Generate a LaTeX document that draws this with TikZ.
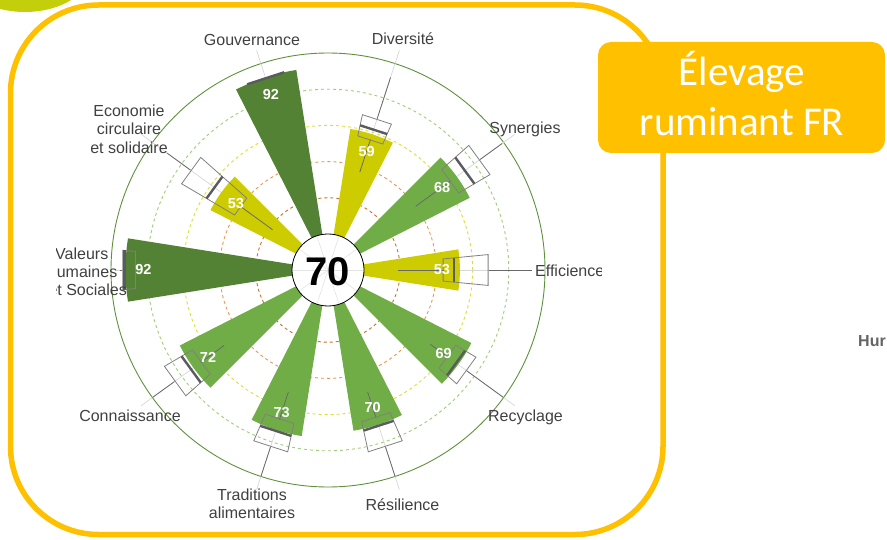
\documentclass[tikz,border=0pt]{standalone}
\usepackage{fontspec}
\setmainfont{Liberation Sans}
\newfontfamily\titlefont{Carlito}
\definecolor{gold}{RGB}{255,192,0}
\definecolor{darkg}{RGB}{84,130,53}
\definecolor{midg}{RGB}{112,173,71}
\definecolor{yelg}{RGB}{204,204,0}
\definecolor{limeblob}{RGB}{195,207,10}
\definecolor{txt}{RGB}{64,64,64}
\definecolor{spokec}{RGB}{215,215,215}
\definecolor{ctrspoke}{RGB}{228,228,228}
\definecolor{whisk}{RGB}{105,105,105}
\definecolor{boxc}{RGB}{128,128,128}
\definecolor{medc}{RGB}{90,90,95}
\definecolor{ringA}{RGB}{200,110,40}
\definecolor{ringB}{RGB}{235,150,80}
\definecolor{ringC}{RGB}{222,222,50}
\definecolor{ringD}{RGB}{160,205,120}
\definecolor{ringE}{RGB}{95,145,60}
\definecolor{humc}{RGB}{100,100,100}
\begin{document}
\begin{tikzpicture}[x=1pt,y=-1pt,
  lab/.style={text=txt, font=\fontsize{16}{18.4}\selectfont, inner sep=0pt},
  valst/.style={text=white, font=\bfseries\fontsize{14.5}{16}\selectfont, inner sep=0pt},
  ring/.style={line width=0.9pt, dash pattern=on 3pt off 3pt},
  spokest/.style={draw=spokec, line width=0.7pt},
  whst/.style={draw=whisk, line width=0.8pt},
  boxst/.style={draw=boxc, line width=0.8pt},
  medst/.style={draw=medc, line width=2.4pt},
]
\useasboundingbox (0,0) rectangle (887,540);
\clip (0,0) rectangle (887,540);
% top-left blob
\fill[limeblob] (25,-30) ellipse [x radius=66, y radius=42];
% frame
\draw[gold, line width=5.5pt, rounded corners=88pt] (10.5,5) rectangle (663,534.5);

% chart
\begin{scope}
\clip (56,10) rectangle (601,532);
\begin{scope}[shift={(328,270)}, yscale=-1]
  \draw[ring, draw=ringA] (0,0) circle[radius=72.2];
  \draw[ring, draw=ringB] (0,0) circle[radius=108.4];
  \draw[ring, draw=ringC] (0,0) circle[radius=144.6];
  \draw[ring, draw=ringD] (0,0) circle[radius=180.8];
  \draw[draw=ringE, line width=0.9pt] (0,0) circle[radius=217];
  % spokes
  \foreach \a/\s in {0/204,36/231,72/231,108/231,144/231,180/211,216/231,252/231,288/231,324/231}
    \draw[spokest] (\a:36) -- (\a:\s);
  % bars
  \foreach \a/\v/\c in {0/53/yelg,36/68/midg,72/59/yelg,108/92/darkg,144/53/yelg,180/92/darkg,216/72/midg,252/73/midg,288/70/midg,324/69/midg}{
    \pgfmathsetmacro\rb{36+1.81*\v}
    \fill[\c] (0,0) -- (\a-9:\rb) arc[start angle=\a-9, end angle=\a+9, radius=\rb] -- cycle;
  }
  % box plots
  \foreach \a/\lw/\qa/\md/\qc/\uw in {0/19/44/50/69/93,36/40/64/74/84/99,72/37/56/62/68/92,108/92/92/92/92/92,144/18/40/58/74/90,180/87/87/93/94/95,216/51/67/74/85/100,252/51/67/74/83/100,288/51/66/71/83/100,324/50/62/68/75/100}{
    \pgfmathsetmacro\rlw{36+1.81*\lw}
    \pgfmathsetmacro\rqa{36+1.81*\qa}
    \pgfmathsetmacro\rmd{36+1.81*\md}
    \pgfmathsetmacro\rqc{36+1.81*\qc}
    \pgfmathsetmacro\ruw{36+1.81*\uw}
    \draw[whst] (\a:\rlw) -- (\a:\rqa);
    \draw[whst] (\a:\rqc) -- (\a:\ruw);
    \draw[boxst] (\a-5.5:\rqa) -- (\a-5.5:\rqc) -- (\a+5.5:\rqc) -- (\a+5.5:\rqa) -- cycle;
    \draw[medst] (\a-5.5:\rmd) -- (\a+5.5:\rmd);
  }
  % value labels
  \foreach \a/\v in {0/53,36/68,72/59,108/92,144/53,180/92,216/72,252/73,288/70,324/69}
    \node[valst] (val\a) at (\a:{36+1.81*\v-18}) {\v};
  % centre
  \fill[white] (0,0) circle[radius=36];
  \foreach \a in {0,36,...,324}
    \draw[draw=ctrspoke, line width=0.6pt] (0,0) -- (\a:36);
  \draw[black, line width=0.8pt] (0,0) circle[radius=36];
  \node[font=\bfseries\fontsize{40}{44}\selectfont, inner sep=0pt] (score) at (0,-2) {70};
\end{scope}
% axis labels
\node[lab, anchor=base] (lgouv) at (252,46) {Gouvernance};
\node[lab, anchor=base] (ldiv) at (403,45) {Diversité};
\node[lab, anchor=base] (lsyn) at (525,134) {Synergies};
\node[lab, anchor=base west] (leff) at (535,277) {Efficience};
\node[lab, anchor=base] (lrec) at (525.5,421.5) {Recyclage};
\node[lab, anchor=base] (lres) at (402.5,510) {Résilience};
\node[lab, align=center] (ltrad) at (252,504) {Traditions\\alimentaires};
\node[lab, anchor=base] (lcon) at (130,421.5) {Connaissance};
\node[lab, anchor=base east] (lvala) at (108.5,259.3) {Valeurs};
\node[lab, anchor=base east] (lvalb) at (117.5,277.3) {humaines};
\node[lab, anchor=base east] (lvalc) at (127,296) {et Sociales};
\node[lab, align=center] (leco) at (129,129) {Economie\\circulaire\\et solidaire};
\end{scope}

% title box
\node[fill=gold, rounded corners=13pt, minimum width=287pt, minimum height=111pt, inner sep=0pt] (title) at (741.5,97.5) {};
\node[text=white, align=center, font=\titlefont\fontsize{41}{50.5}\selectfont, inner sep=0pt] (titletext) at (742,93.5) {Élevage\\ruminant FR};

% text at right edge
\node[anchor=base west, text=humc, font=\bfseries\fontsize{16}{18}\selectfont, inner sep=0pt] (hum) at (858,346) {Hur};
\end{tikzpicture}
\end{document}
